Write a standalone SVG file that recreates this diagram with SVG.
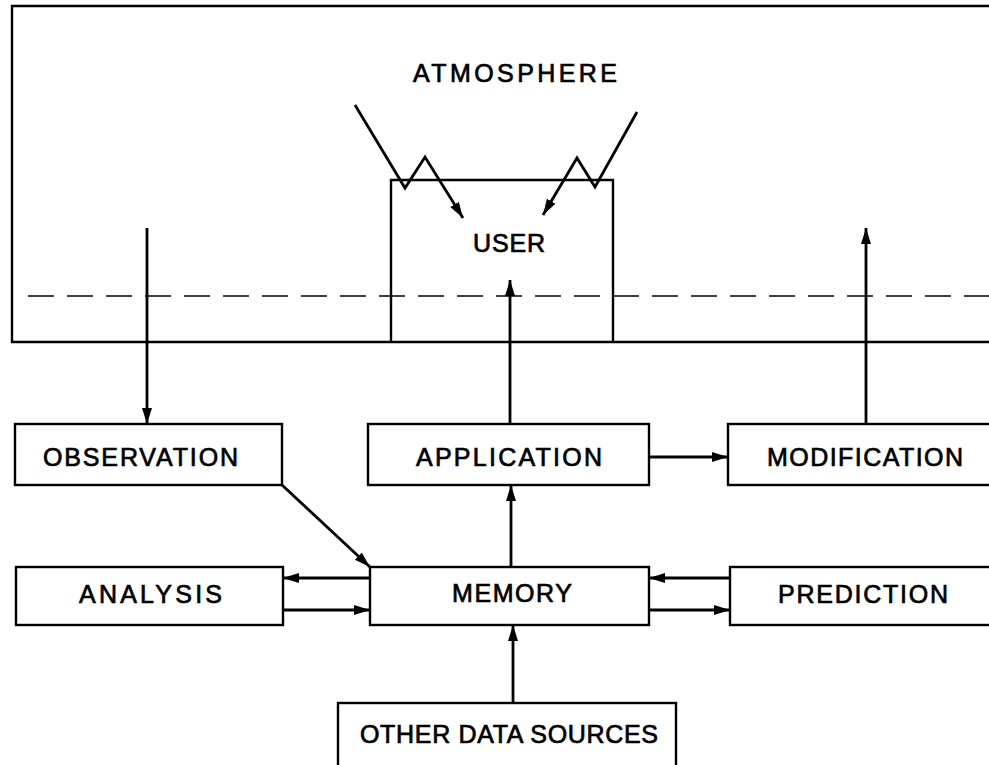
<svg xmlns="http://www.w3.org/2000/svg" width="989" height="765" viewBox="0 0 989 765">
<defs>
<marker id="ah" markerUnits="userSpaceOnUse" markerWidth="18" markerHeight="12" refX="16" refY="5.5" orient="auto">
<path d="M0,0.5 L16,5.5 L0,10.5 z" fill="#000"/>
</marker>
<style>
.box{fill:#fff;stroke:#000;stroke-width:2.4}
.frame{fill:none;stroke:#000;stroke-width:2.4}
.dash{fill:none;stroke:#000;stroke-width:1.4;stroke-dasharray:26 13}
.conn{fill:none;stroke:#000;stroke-width:2.8;marker-end:url(#ah)}
.lbl{font-family:"Liberation Sans",Arial,sans-serif;font-size:25px;fill:#000;stroke:#000;stroke-width:0.7}
</style>
</defs>
<rect width="989" height="765" fill="#fff"/>

<g id="frame">
<path class="frame" d="M989,6 L12,6 L12,342 L989,342"/>
<line class="dash" x1="28" y1="296" x2="989" y2="296"/>
</g>

<g id="atmosphere">
<text class="lbl" x="413" y="82" font-size="26" textLength="204" lengthAdjust="spacing">ATMOSPHERE</text>
</g>

<g id="user">
<path class="frame" d="M391,342 L391,180 L613,180 L613,342"/>
<text class="lbl" x="473" y="252" textLength="72" lengthAdjust="spacing">USER</text>
</g>

<g id="observation">
<rect class="box" x="15" y="424" width="267" height="61"/>
<text class="lbl" x="43" y="466" textLength="195" lengthAdjust="spacing">OBSERVATION</text>
</g>

<g id="application">
<rect class="box" x="368" y="424" width="281" height="61"/>
<text class="lbl" x="416" y="466" textLength="186" lengthAdjust="spacing">APPLICATION</text>
</g>

<g id="modification">
<rect class="box" x="728" y="424" width="280" height="61"/>
<text class="lbl" x="767" y="466" textLength="196" lengthAdjust="spacing">MODIFICATION</text>
</g>

<g id="analysis">
<rect class="box" x="16" y="567" width="267" height="58"/>
<text class="lbl" x="79" y="603" textLength="143" lengthAdjust="spacing">ANALYSIS</text>
</g>

<g id="memory">
<rect class="box" x="370" y="567" width="279" height="58"/>
<text class="lbl" x="452" y="602" textLength="120" lengthAdjust="spacing">MEMORY</text>
</g>

<g id="prediction">
<rect class="box" x="730" y="567" width="280" height="58"/>
<text class="lbl" x="778" y="603" textLength="170" lengthAdjust="spacing">PREDICTION</text>
</g>

<g id="other-data-sources">
<rect class="box" x="338" y="703" width="338" height="80"/>
<text class="lbl" x="360" y="743" textLength="298" lengthAdjust="spacing">OTHER DATA SOURCES</text>
</g>

<g id="connectors">
<polyline class="conn" points="355,105 405,188 425,157 463,218"/>
<polyline class="conn" points="637,112 595,187 577,158 543,215"/>
<line class="conn" x1="147" y1="228" x2="147" y2="424"/>
<line class="conn" x1="510" y1="424" x2="510" y2="280"/>
<line class="conn" x1="866" y1="424" x2="866" y2="228"/>
<line class="conn" x1="649" y1="457" x2="728" y2="457"/>
<line class="conn" x1="282" y1="485" x2="370" y2="567"/>
<line class="conn" x1="511" y1="567" x2="511" y2="485"/>
<line class="conn" x1="370" y1="578" x2="283" y2="578"/>
<line class="conn" x1="283" y1="610" x2="370" y2="610"/>
<line class="conn" x1="730" y1="578" x2="649" y2="578"/>
<line class="conn" x1="649" y1="610" x2="730" y2="610"/>
<line class="conn" x1="513" y1="703" x2="513" y2="625"/>
</g>
</svg>
